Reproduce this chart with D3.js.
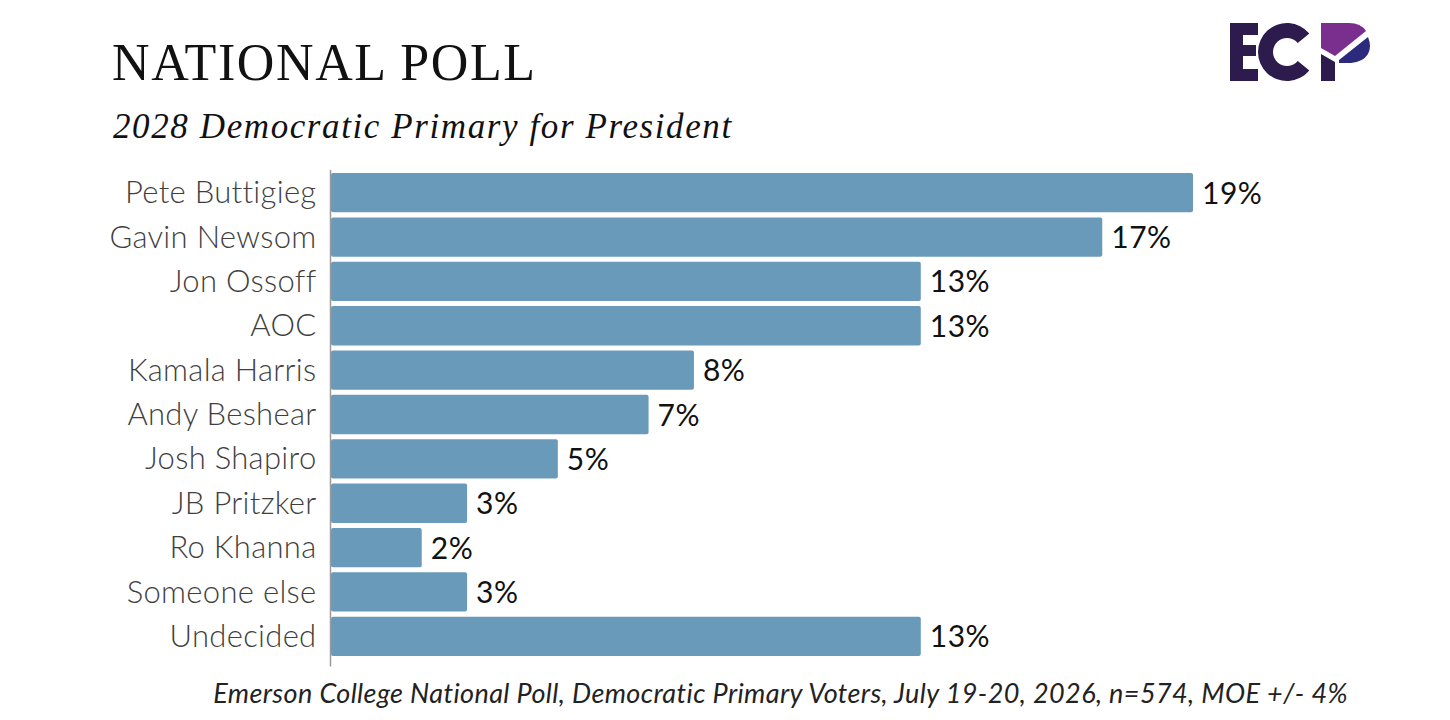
<!DOCTYPE html>
<html>
<head>
<meta charset="utf-8">
<script src="https://cdn.jsdelivr.net/npm/d3@7"></script>
<style>
  body { margin: 0; background: #fff; }
  svg { display: block; }
</style>
</head>
<body>
<div id="chart"></div>
<script>
'use strict';

// poll data
const candidates = ['Pete Buttigieg', 'Gavin Newsom', 'Jon Ossoff', 'AOC', 'Kamala Harris',
    'Andy Beshear', 'Josh Shapiro', 'JB Pritzker', 'Ro Khanna', 'Someone else', 'Undecided'];
const shares = [19, 17, 13, 13, 8, 7, 5, 3, 2, 3, 13];

const titleText = 'NATIONAL POLL';
const subtitleText = '2028 Democratic Primary for President';
const sourceText = 'Emerson College National Poll, Democratic Primary Voters, July 19-20, 2026, n=574, MOE +/- 4%';

const width = 1450, height = 720;
const margin = {top: 170.5, left: 331, right: 257, bottom: 61.5};

let svg = d3.select('#chart').append('svg')
    .attr('width', width)
    .attr('height', height);

let rows = candidates.map(function (name, i) {
    return {name: name, value: shares[i]};
});

let x = d3.scaleLinear()
    .domain([0, d3.max(shares)])
    .range([margin.left, width - margin.right]);

let y = d3.scaleBand()
    .domain(candidates)
    .range([margin.top, height - margin.bottom])
    .paddingInner(0.114)
    .paddingOuter(0.057);

// title block
svg.append('text')
    .text(titleText)
    .attr('x', 112)
    .attr('y', 80)
    .style('font-family', '"Liberation Serif", serif')
    .style('font-size', '52px')
    .style('letter-spacing', '1.6px')
    .style('fill', '#111');

svg.append('text')
    .text(subtitleText)
    .attr('x', 113)
    .attr('y', 138)
    .style('font-family', '"Liberation Serif", serif')
    .style('font-style', 'italic')
    .style('font-size', '35px')
    .style('letter-spacing', '1.6px')
    .style('fill', '#111');

// bars
svg.append('g').selectAll('.bar')
    .data(rows)
    .enter().append('rect')
    .attr('class', 'bar')
    .attr('x', x(0))
    .attr('y', function (d) { return y(d.name); })
    .attr('width', function (d) { return x(d.value) - x(0); })
    .attr('height', y.bandwidth())
    .attr('rx', 2)
    .style('fill', '#6a9aba');

// value labels
svg.append('g').selectAll('.value-label')
    .data(rows)
    .enter().append('text')
    .attr('class', 'value-label')
    .text(function (d) { return d.value + '%'; })
    .attr('x', function (d) { return x(d.value) + 9; })
    .attr('y', function (d) { return y(d.name) + y.bandwidth() / 2 + 11; })
    .style('font-family', 'Lato, sans-serif')
    .style('font-size', '30px')
    .style('letter-spacing', '0.5px')
    .style('fill', '#111');

// category axis
let yAxis = d3.axisLeft(y).tickSize(0).tickPadding(14);
let axisG = svg.append('g')
    .attr('transform', 'translate(' + (x(0) - 0.5) + ',0)')
    .call(yAxis);

axisG.select('.domain')
    .attr('d', 'M0,' + (margin.top - 0.5) + 'V' + (height - margin.bottom + 8))
    .style('stroke', '#9a9a9a')
    .style('stroke-width', 1.5);

axisG.selectAll('.tick text')
    .attr('dy', '0.34em')
    .style('font-family', 'Lato, sans-serif')
    .style('font-weight', 300)
    .style('font-size', '31px')
    .style('letter-spacing', '0.3px')
    .style('fill', '#3f3f3f');

// source note
svg.append('text')
    .text(sourceText)
    .attr('x', 1348)
    .attr('y', 703)
    .style('text-anchor', 'end')
    .style('font-family', 'Lato, sans-serif')
    .style('font-style', 'italic')
    .style('font-size', '27px')
    .style('letter-spacing', '0.4px')
    .style('fill', '#222');

// ECP logo
let logo = svg.append('g').attr('transform', 'translate(1230,23)');

logo.append('path')
    .attr('d', 'M0,0H28V12H13V22H26V33H13V46H28V58H0Z')
    .style('fill', '#2d1b4e');

let cArc = d3.arc()
    .innerRadius(14)
    .outerRadius(29)
    .startAngle(Math.PI * 0.72)
    .endAngle(Math.PI * 2.28);

logo.append('path')
    .attr('d', cArc())
    .attr('transform', 'translate(57,29)')
    .style('fill', '#2d1b4e');

let pLogo = logo.append('g').attr('transform', 'translate(91,0)');

pLogo.append('path')
    .attr('d', 'M0,31L14,39V58H0Z')
    .style('fill', '#2d1b4e');

pLogo.append('path')
    .attr('d', 'M0,0H28Q40,0 45,8L14,33L0,25Z')
    .style('fill', '#7a2f8f');

pLogo.append('path')
    .attr('d', 'M18,37L47,14Q51,24 47,31Q42,39 30,40H18Z')
    .style('fill', '#2b2a7c');
</script>
</body>
</html>
